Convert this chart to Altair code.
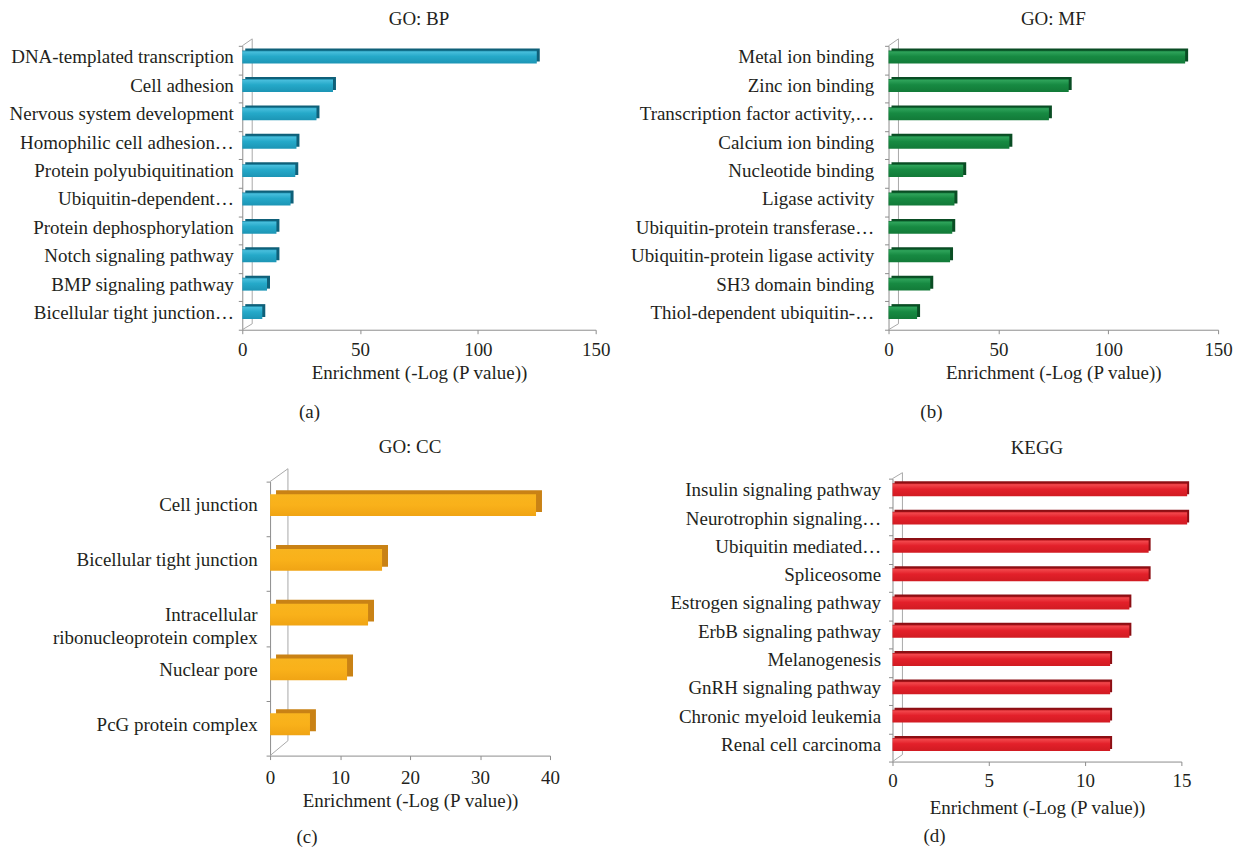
import altair as alt
import pandas as pd

FONT = "Liberation Serif"
FS = 19.1
TEXT = "#231f20"
AXIS_GRAY = "#8c8c8c"
WALL_GRAY = "#a8a8a8"
X_TITLE = "Enrichment (-Log (P value))"

# ---- data ----
bp_terms = ["DNA-templated transcription", "Cell adhesion", "Nervous system development",
            "Homophilic cell adhesion…", "Protein polyubiquitination", "Ubiquitin-dependent…",
            "Protein dephosphorylation", "Notch signaling pathway", "BMP signaling pathway",
            "Bicellular tight junction…"]
bp_values = [125, 38.5, 31.5, 23, 22.5, 20.5, 14.5, 14.5, 10.5, 8.5]

mf_terms = ["Metal ion binding", "Zinc ion binding", "Transcription factor activity,…",
            "Calcium ion binding", "Nucleotide binding", "Ligase activity",
            "Ubiquitin-protein transferase…", "Ubiquitin-protein ligase activity",
            "SH3 domain binding", "Thiol-dependent ubiquitin-…"]
mf_values = [135, 82, 73, 55, 34, 30, 29, 28, 19, 13]

cc_terms = ["Cell junction", "Bicellular tight junction", "Intracellular ribonucleoprotein complex",
            "Nuclear pore", "PcG protein complex"]
cc_values = [38, 16, 14, 11, 5.7]

kegg_terms = ["Insulin signaling pathway", "Neurotrophin signaling…", "Ubiquitin mediated…",
              "Spliceosome", "Estrogen signaling pathway", "ErbB signaling pathway",
              "Melanogenesis", "GnRH signaling pathway", "Chronic myeloid leukemia",
              "Renal cell carcinoma"]
kegg_values = [15.3, 15.3, 13.3, 13.3, 12.3, 12.3, 11.3, 11.3, 11.3, 11.3]

bp_ticks = [0, 50, 100, 150]
mf_ticks = [0, 50, 100, 150]
cc_ticks = [0, 10, 20, 30, 40]
kegg_ticks = [0, 5, 10, 15]


def grad(stops):
    return alt.LinearGradient(
        gradient="linear", x1=0, x2=0, y1=0, y2=1,
        stops=[alt.GradientStop(offset=o, color=c) for o, c in stops])


def spacer():
    return alt.Chart(alt.Data(values=[])).mark_point(opacity=0).encode(
        x=alt.value(0), y=alt.value(0)).properties(width=1, height=1)


def panel(terms, values, ticks, w, h, title, caption, front_stops, side_color,
          bar_size, dx, dy, shift, extent, label_pad, title_off, x_lab_pad,
          x_title_pad, cap_off, cap_dx, wall_dx, wall_dy, wall_bottom, use_spacer):
    df = pd.DataFrame({"term": terms, "value": values})
    label_expr = ("datum.label == 'Intracellular ribonucleoprotein complex' ? "
                  "['Intracellular', 'ribonucleoprotein complex'] : datum.label")
    y = alt.Y("term:N", sort=terms, title=None,
              scale=alt.Scale(paddingInner=0, paddingOuter=0),
              axis=alt.Axis(labelFont=FONT, labelFontSize=FS, labelColor=TEXT,
                            labelPadding=label_pad, labelLimit=400, labelOffset=shift,
                            labelLineHeight=23, labelExpr=label_expr,
                            tickSize=4, tickColor=AXIS_GRAY, domainColor=AXIS_GRAY,
                            tickBand="extent", minExtent=extent, maxExtent=extent))
    x = alt.X("value:Q", scale=alt.Scale(domain=[ticks[0], ticks[-1]], nice=False),
              axis=alt.Axis(values=ticks, title=X_TITLE, grid=False, labelFlush=False,
                            labelFont=FONT, labelFontSize=FS, labelColor=TEXT,
                            labelPadding=x_lab_pad, titlePadding=x_title_pad,
                            titleFont=FONT, titleFontSize=FS, titleColor=TEXT,
                            titleFontWeight="normal", tickSize=4,
                            tickColor=AXIS_GRAY, domainColor=AXIS_GRAY))
    one = alt.Data(values=[{"k": 0}])
    wall_v = alt.Chart(one).mark_rule(color=WALL_GRAY, strokeWidth=1).encode(
        x=alt.value(wall_dx), y=alt.value(-wall_dy), y2=alt.value(wall_bottom))
    wall_t = alt.Chart(one).mark_rule(color=WALL_GRAY, strokeWidth=1).encode(
        x=alt.value(0), x2=alt.value(wall_dx), y=alt.value(0), y2=alt.value(-wall_dy))
    wall_b = alt.Chart(one).mark_rule(color=WALL_GRAY, strokeWidth=1).encode(
        x=alt.value(wall_dx), x2=alt.value(0), y=alt.value(wall_bottom), y2=alt.value(h))
    back = alt.Chart(df).mark_bar(color=side_color, size=bar_size,
                                  xOffset=dx, x2Offset=dx,
                                  yOffset=shift - dy, y2Offset=shift - dy).encode(x=x, y=y)
    front = alt.Chart(df).mark_bar(color=grad(front_stops), size=bar_size,
                                   yOffset=shift, y2Offset=shift).encode(x=x, y=y)
    layered = alt.layer(wall_v, wall_t, wall_b, back, front).properties(
        width=w, height=h,
        title=alt.TitleParams(title, offset=title_off, frame="group", anchor="middle",
                              font=FONT, fontSize=FS, fontWeight="normal", color=TEXT))
    inner = alt.vconcat(layered).properties(
        title=alt.TitleParams(caption, orient="bottom", anchor="middle", offset=cap_off,
                              dx=cap_dx, font=FONT, fontSize=FS, fontWeight="normal",
                              color=TEXT))
    if use_spacer:
        return alt.hconcat(spacer(), inner, spacing=0)
    return inner


teal = [(0, "#15809e"), (0.1, "#47bedc"), (0.45, "#25a9c9"), (1, "#1c95b5")]
green = [(0, "#0d6a32"), (0.1, "#2ea35a"), (0.45, "#178a42"), (1, "#127a38")]
orange = [(0, "#f8b41e"), (0.5, "#f9b11a"), (1, "#f0a414")]
red = [(0, "#b5151b"), (0.1, "#f2474c"), (0.45, "#e3202a"), (1, "#d11b22")]

pa = panel(bp_terms, bp_values, bp_ticks, 356, 286, "GO: BP", "(a)", teal, "#0f6079",
           13, 3, 2, -3, 231, 5, 8, 7, 4, 21, 0, 10, 7, 280, True)
pb = panel(mf_terms, mf_values, mf_ticks, 332, 286, "GO: MF", "(b)", green, "#0a4d24",
           13, 3, 2, -3, 257, 11, 8, 7, 4, 21, 0, 10, 7, 280, False)
pc = panel(cc_terms, cc_values, cc_ticks, 282, 276, "GO: CC", "(c)", orange, "#c98215",
           22, 6, 4, -4, 263, 9, 11, 9, 4, 18, 23, 18, 13, 261, True)
pd_ = panel(kegg_terms, kegg_values, kegg_ticks, 291, 285, "KEGG", "(d)", red, "#8c0f14",
            13, 2, 2, -3, 264, 8, 12, 6, 8, 10, 24, 10, 6, 278, False)

chart = alt.concat(pa, pb, pc, pd_, columns=2, align="none",
                   spacing=alt.RowColnumber(row=15, column=20)).properties(
    padding={"left": 0, "top": -2, "right": 0, "bottom": 0}
).configure_view(stroke=None)

chart.save("out.html", embed_options={"renderer": "svg", "actions": False})
